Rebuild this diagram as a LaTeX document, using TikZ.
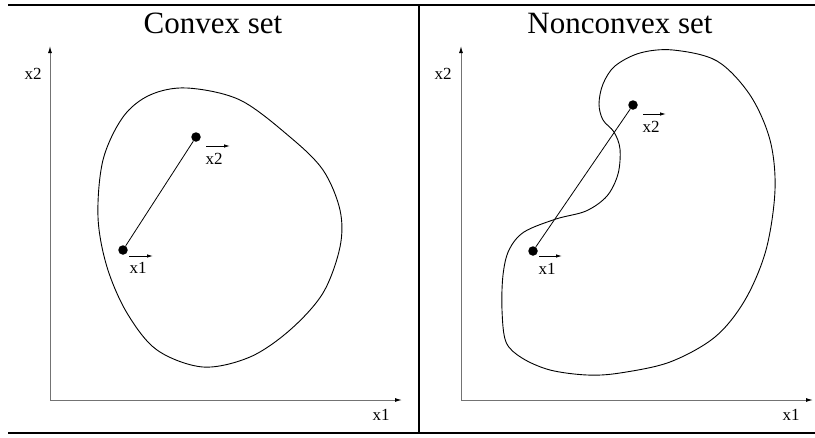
\documentclass[tikz,border=0pt]{standalone}
\usepackage{fontspec}
\setmainfont{Liberation Serif}
\usetikzlibrary{arrows.meta}
\begin{document}
\begin{tikzpicture}[x=1pt,y=-1pt,
  frame/.style={line width=2pt,black},
  divider/.style={line width=1.6pt,black},
  axis/.style={line width=1pt,black!55,-{Latex[length=7pt,width=4pt,black]}},
  vec/.style={line width=0.9pt,-{Latex[length=6pt,width=3.5pt]}},
  outline/.style={line width=0.9pt,black},
  dot/.style={circle,fill=black,inner sep=0pt,minimum size=9.5pt},
  title/.style={font=\fontsize{31}{31}\selectfont,inner sep=0pt,anchor=base},
  lbl/.style={font=\fontsize{17}{17}\selectfont,inner sep=0pt}]
\useasboundingbox (0,0) rectangle (815,437);
% frame
\coordinate (tl) at (8,5); \coordinate (tr) at (815,5);
\coordinate (bl) at (8,433); \coordinate (br) at (815,433);
\coordinate (dt) at (419,5); \coordinate (db) at (419,433);
\draw[frame] (tl) -- (tr);
\draw[frame] (bl) -- (br);
\draw[divider] (dt) -- (db);
% titles
\node[title] (t1) at (213,33) {Convex set};
\node[title] (t2) at (620,33) {Nonconvex set};
% left axes
\coordinate (o1) at (50,400);
\coordinate (y1) at (50,46);
\coordinate (x1e) at (402,400);
\draw[axis] (o1) -- (y1);
\draw[axis] (o1) -- (x1e);
\node[lbl] (ly1) at (33,74) {x2};
\node[lbl] (lx1) at (381,415) {x1};
% right axes
\coordinate (o2) at (461,400);
\coordinate (y2) at (461,46);
\coordinate (x2e) at (813,400);
\draw[axis] (o2) -- (y2);
\draw[axis] (o2) -- (x2e);
\node[lbl] (ly2) at (443,74) {x2};
\node[lbl] (lx2) at (791,415) {x1};
% convex shape
\draw[outline] plot[smooth cycle,tension=0.55] coordinates {
 (187,88) (240,100) (290,137) (323,170) (340,210) (340,247) (323,293)
 (290,330) (250,357) (203,367) (157,350) (127,313) (107,267) (98,217)
 (103,160) (123,117) (150,95)};
% convex points
\node[dot] (a1) at (123,250) {};
\node[dot] (a2) at (196,137) {};
\draw[line width=0.8pt] (a1) -- (a2);
\coordinate (a1s) at (129,256); \coordinate (a1e) at (153,256);
\coordinate (a2s) at (206,146); \coordinate (a2e) at (230,146);
\draw[vec] (a1s) -- (a1e);
\draw[vec] (a2s) -- (a2e);
\node[lbl] (na1) at (138,268) {x1};
\node[lbl] (na2) at (214,159) {x2};
% nonconvex shape
\draw[outline] plot[smooth cycle,tension=0.55] coordinates {
 (673,50) (717,61) (750,95) (770,140) (775,190) (766,250) (745,300)
 (715,337) (670,362) (620,373) (587,375) (550,370) (522,358) (506,342)
 (502,310) (503,275) (509,250) (524,232) (556,219) (586,211) (607,196)
 (618,174) (620,149) (614,132) (603,120) (599,104) (603,84) (615,66) (640,53)};
% nonconvex points
\node[dot] (b1) at (533,251) {};
\node[dot] (b2) at (633,105) {};
\draw[line width=0.8pt] (b1) -- (b2);
\coordinate (b1s) at (539,256); \coordinate (b1e) at (562,256);
\coordinate (b2s) at (643,114); \coordinate (b2e) at (666,114);
\draw[vec] (b1s) -- (b1e);
\draw[vec] (b2s) -- (b2e);
\node[lbl] (nb1) at (547,269) {x1};
\node[lbl] (nb2) at (651,127) {x2};
\end{tikzpicture}
\end{document}
